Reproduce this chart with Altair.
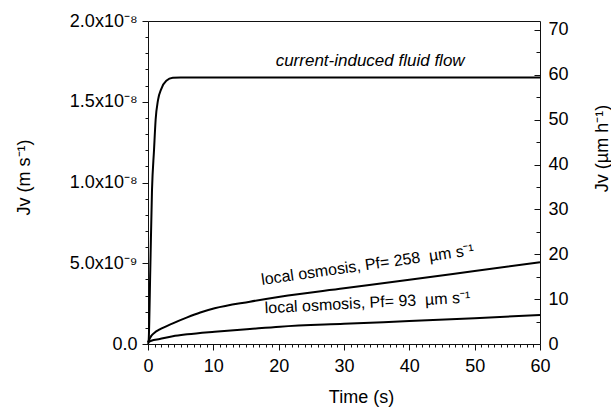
import json
import altair as alt
import pandas as pd

# ---- data (Jv in m/s, time in s) ----
t_current = [0, 0.1, 0.35, 0.61, 0.92, 1.17, 1.53, 2.04, 2.8, 3.8, 5, 10, 20, 30, 40, 50, 60]
jv_current = [0, 0.2e-9, 4.6e-9, 9.5e-9, 12.0e-9, 13.9e-9, 15.1e-9, 15.8e-9, 16.3e-9,
              16.48e-9, 16.5e-9, 16.5e-9, 16.5e-9, 16.5e-9, 16.5e-9, 16.5e-9, 16.5e-9]

t_pf258 = [0, 0.5, 1, 1.8, 3.8, 6, 8, 10.2, 15.6, 20.2, 30, 40, 50, 60]
jv_pf258 = [0.1e-9, 0.5e-9, 0.7e-9, 0.9e-9, 1.28e-9, 1.65e-9, 1.95e-9, 2.21e-9, 2.62e-9,
            2.93e-9, 3.45e-9, 3.98e-9, 4.52e-9, 5.06e-9]

t_pf93 = [0, 0.5, 1.8, 3.8, 6, 10.2, 15.6, 20.2, 30, 40, 50, 60]
jv_pf93 = [0.1e-9, 0.2e-9, 0.31e-9, 0.48e-9, 0.6e-9, 0.76e-9, 0.93e-9, 1.07e-9, 1.25e-9,
           1.42e-9, 1.6e-9, 1.8e-9]

series_names = ["current-induced", "Pf 258", "Pf 93"]

label_text = ["current-induced fluid flow",
              "local osmosis, Pf= 258\u00a0\u00a0\u00b5m s\u207b\u00b9",
              "local osmosis, Pf= 93\u00a0\u00a0\u00b5m s\u207b\u00b9"]
label_t = [34.0, 33.6, 33.6]
label_jv = [1.752e-8, 4.89e-9, 2.54e-9]
label_angle = [0, 352, 357]

x_ticks = list(range(0, 61))
y_ticks = [i * 1e-9 for i in range(21)]
y_tick_labels = ["0.0", "5.0x10\u207b\u2079", "1.0x10\u207b\u2078", "1.5x10\u207b\u2078", "2.0x10\u207b\u2078"]
r_ticks = list(range(0, 71, 5))

rows = []
for name, ts, vs in zip(series_names, [t_current, t_pf258, t_pf93], [jv_current, jv_pf258, jv_pf93]):
    for t, v in zip(ts, vs):
        rows.append({"t": t, "jv": v, "series": name})
df = pd.DataFrame(rows)

lab = pd.DataFrame({"t": label_t, "jv": label_jv, "text": label_text, "angle": label_angle})

FONT = "Liberation Sans"

x_enc = alt.X(
    "t:Q",
    scale=alt.Scale(domain=[0, 60], nice=False, zero=False),
    axis=alt.Axis(
        values=x_ticks,
        labelExpr="datum.value % 10 === 0 ? datum.label : ''",
        tickSize={"condition": {"test": "datum.value % 10 === 0", "value": 6}, "value": 3},
        labelOverlap=False, labelFlush=False, labelPadding=7,
        grid=False, domain=False,
        title="Time (s)", titleX=213, titleY=53,
        titleAlign="center", titleBaseline="middle",
    ),
)

y_enc = alt.Y(
    "jv:Q",
    scale=alt.Scale(domain=[0, 2e-8], nice=False, zero=True),
    axis=alt.Axis(
        orient="left",
        values=y_ticks,
        labelExpr="round(datum.value*1e9) % 5 === 0 ? " + json.dumps(y_tick_labels, ensure_ascii=False)
                  + "[round(datum.value*1e9)/5] : ''",
        tickSize={"condition": {"test": "round(datum.value*1e9) % 5 === 0", "value": 6}, "value": 3},
        labelOverlap=False, labelFlush=False, labelPadding=5,
        grid=False, domain=False,
        title="Jv (m s\u207b\u00b9)", titleAngle=270, titleX=-124, titleY=156,
        titleAlign="center", titleBaseline="middle",
    ),
)

lines = alt.Chart(df).mark_line(color="black", strokeWidth=2, interpolate="monotone").encode(
    x=x_enc, y=y_enc, detail="series:N"
)

text_italic = alt.Chart(lab.iloc[[0]]).mark_text(
    font=FONT, fontSize=17, fontStyle="italic", color="black", align="center", baseline="middle"
).encode(x=x_enc, y=y_enc, text="text:N")

text_normal = alt.Chart(lab.iloc[[1, 2]]).mark_text(
    font=FONT, fontSize=16, color="black", align="center", baseline="middle"
).encode(x=x_enc, y=y_enc, text="text:N", angle=alt.Angle("angle:Q", scale=None))

right = alt.Chart(df).transform_calculate(umh="datum.jv * 3.6e9").mark_line(opacity=0).encode(
    x=x_enc,
    y=alt.Y(
        "umh:Q",
        scale=alt.Scale(domain=[0, 72], nice=False, zero=True),
        axis=alt.Axis(
            orient="right",
            values=r_ticks,
            labelExpr="datum.value % 10 === 0 ? datum.label : ''",
            tickSize={"expr": "datum.value % 10 === 0 ? -6 : -4"},
            labelPadding=14, labelOverlap=False, labelFlush=False,
            grid=False, domain=False,
            title="Jv (\u00b5m h\u207b\u00b9)", titleAngle=270, titleX=62, titleY=127,
            titleAlign="center", titleBaseline="middle",
        ),
    ),
    detail="series:N",
)

main = alt.layer(lines, text_italic, text_normal)

chart = (
    alt.layer(main, right)
    .resolve_scale(y="independent")
    .properties(
        width=392, height=323,
        autosize=alt.AutoSizeParams(type="none"),
        padding={"left": 148, "top": 21, "right": 71, "bottom": 66},
        background="white",
    )
    .configure_view(stroke="#111", strokeWidth=1)
    .configure_axis(
        labelFont=FONT, labelFontSize=18, labelColor="black",
        titleFont=FONT, titleFontSize=18, titleFontWeight="normal", titleColor="black",
        tickColor="#111", tickWidth=1,
    )
)

chart.save("out.html", embed_options={"renderer": "svg", "actions": False})
